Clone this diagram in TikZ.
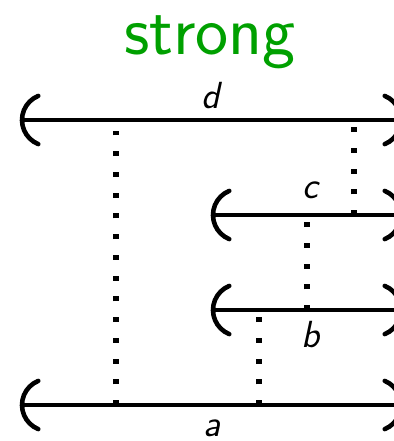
\documentclass[tikz,border=0pt]{standalone}
\definecolor{strongGreen}{RGB}{0,160,0}
\usepackage{tikz}
\usetikzlibrary{positioning,calc}

\tikzset{
  interval/.style={line width=2.6pt},
  brace/.style={line width=2.6pt, line cap=round},
  link/.style={line width=2.85pt, dash pattern=on 2.84pt off 8.96pt},
  lbl/.style={font=\sffamily\itshape\fontsize{21.5}{26}\selectfont, inner sep=0pt, anchor=base},
  lend/.pic={\draw[brace] (26,0) ++(112:26) arc[start angle=112,end angle=248,radius=26];},
  rend/.pic={\draw[brace] (-26,0) ++(68:26) arc[start angle=68,end angle=-68,radius=26];}
}

\begin{document}
\begin{tikzpicture}[x=0.02cm,y=-0.02cm]
\useasboundingbox (0,0) rectangle (394,441);
\clip (0,0) rectangle (394,441);
\node[font=\sffamily\fontsize{40}{46}\selectfont, text=strongGreen, inner sep=0pt, anchor=base] (title) at (210,54) {strong};
% interval ends
\coordinate (dL) at (22,120);  \coordinate (dR) at (401,120);
\coordinate (cL) at (213,215); \coordinate (cR) at (401,215);
\coordinate (bL) at (213,310); \coordinate (bR) at (401,310);
\coordinate (aL) at (22,405);  \coordinate (aR) at (401,405);
\foreach \i in {a,b,c,d}{
  \draw[interval] (\i L) -- (\i R);
  \pic at (\i L) {lend};
  \pic at (\i R) {rend};
}
% meeting points
\coordinate (d1) at (116,120); \coordinate (a1) at (116,405);
\coordinate (d2) at (354,120); \coordinate (c2) at (354,215);
\coordinate (c3) at (307,215); \coordinate (b3) at (307,310);
\coordinate (b4) at (259,310); \coordinate (a4) at (259,405);
\draw[link] (a1) -- (d1);
\draw[link] (c2) -- (d2);
\draw[link] (b3) -- (c3);
\draw[link] (a4) -- (b4);
\node[lbl] (dlab) at (211,108) {d};
\node[lbl] (clab) at (310,198) {c};
\node[lbl] (blab) at (311,347) {b};
\node[lbl] (alab) at (212,436) {a};
\end{tikzpicture}
\end{document}
